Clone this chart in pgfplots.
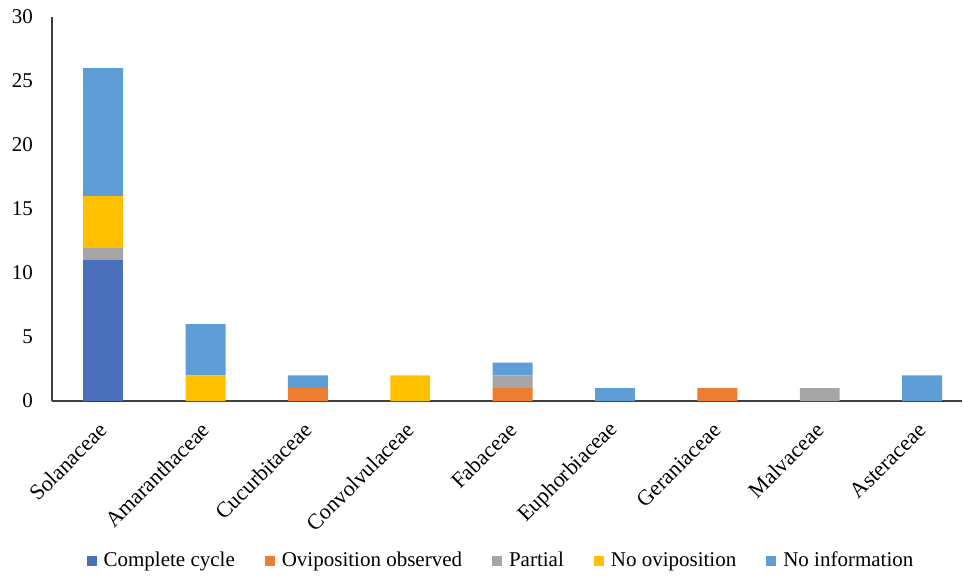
\documentclass[border=0pt]{standalone}
\usepackage{pgfplots}
\pgfplotsset{compat=1.18}
\usepackage{fontspec}
\setmainfont{Liberation Serif}
\usetikzlibrary{calc}

\definecolor{cComplete}{HTML}{4A6FBB}
\definecolor{cOvi}{HTML}{ED7D31}
\definecolor{cPartial}{HTML}{A5A5A5}
\definecolor{cNoOvi}{HTML}{FFC000}
\definecolor{cNoInfo}{HTML}{5F9DD6}
\definecolor{axisgray}{HTML}{404040}

\begin{document}
\begin{tikzpicture}
\begin{axis}[
  scale only axis,
  width=455pt, height=192pt,
  ybar stacked,
  bar width=0.39,
  xmin=-0.5, xmax=8.39,
  ymin=0, ymax=30,
  ytick={0,5,...,30},
  xtick={0,...,8},
  xticklabels={Solanaceae,Amaranthaceae,Cucurbitaceae,Convolvulaceae,Fabaceae,Euphorbiaceae,Geraniaceae,Malvaceae,Asteraceae},
  axis x line=bottom, axis y line=left,
  axis line style={draw=axisgray, line width=1pt, -},
  major tick length=0pt,
  /pgf/number format/assume math mode=true,
  tick label style={font=\fontsize{10.5}{12}\selectfont, text=black},
  yticklabel style={xshift=-6pt},
  xticklabel style={rotate=45, anchor=east, xshift=-5.5pt, yshift=-9pt,
    font=\fontsize{11}{13}\selectfont},
  legend style={at={(0.4945,-0.4167)}, anchor=center, draw=none,
    legend columns=-1, font=\fontsize{10.5}{12}\selectfont,
    /tikz/every even column/.append style={column sep=13pt}},
  legend image code/.code={\fill[#1,draw=none] (0pt,-2.5pt) rectangle (5pt,2.5pt);
    \path (5pt,0) -- (6.5pt,0);},
  every axis plot/.append style={draw=none},
]
% Complete cycle
\addplot[fill=cComplete] coordinates {(0,11) (1,0) (2,0) (3,0) (4,0) (5,0) (6,0) (7,0) (8,0)};
% Oviposition observed
\addplot[fill=cOvi] coordinates {(0,0) (1,0) (2,1) (3,0) (4,1) (5,0) (6,1) (7,0) (8,0)};
% Partial
\addplot[fill=cPartial] coordinates {(0,1) (1,0) (2,0) (3,0) (4,1) (5,0) (6,0) (7,1) (8,0)};
% No oviposition
\addplot[fill=cNoOvi] coordinates {(0,4) (1,2) (2,0) (3,2) (4,0) (5,0) (6,0) (7,0) (8,0)};
% No information
\addplot[fill=cNoInfo] coordinates {(0,10) (1,4) (2,1) (3,0) (4,1) (5,1) (6,0) (7,0) (8,2)};
\legend{Complete cycle, Oviposition observed, Partial, No oviposition, No information}
\end{axis}
\pgfresetboundingbox
\path ($(current axis.south west)+(-26pt,-87pt)$) rectangle ($(current axis.north east)+(0.5pt,8.5pt)$);
\end{tikzpicture}
\end{document}
